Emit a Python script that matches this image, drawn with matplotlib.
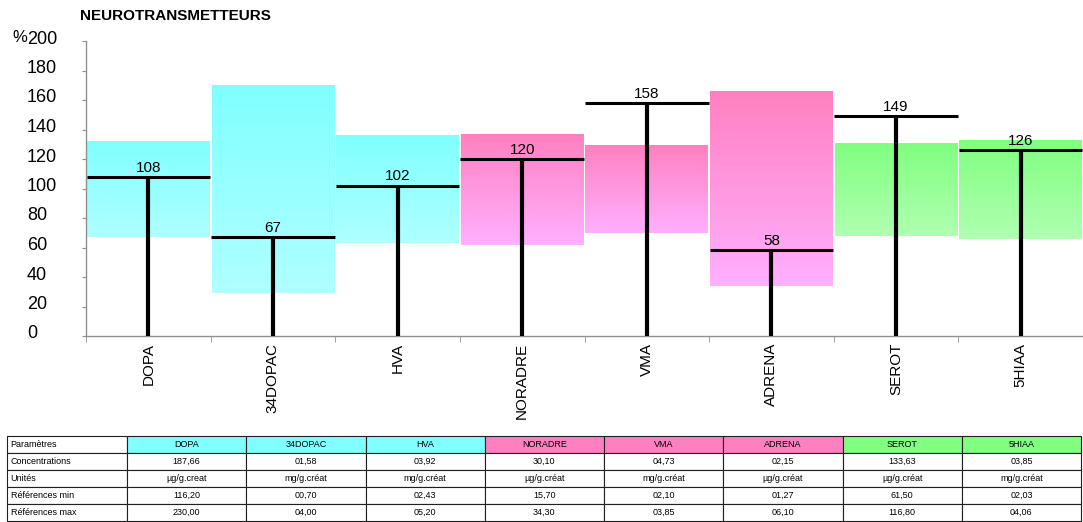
import numpy as np
import matplotlib
matplotlib.use("Agg")
import matplotlib.pyplot as plt
import matplotlib.transforms as mtransforms
from matplotlib.colors import to_rgb

plt.rcParams['font.family'] = ['Liberation Sans', 'DejaVu Sans']

categories = ["DOPA", "34DOPAC", "HVA", "NORADRE", "VMA", "ADRENA", "SEROT", "5HIAA"]
values = [108, 67, 102, 120, 158, 58, 149, 126]
ref_low = [67, 29, 63, 62, 70, 34, 68, 66]
ref_high = [132, 170, 136, 137, 129, 166, 131, 133]
groups = ["cyan", "cyan", "cyan", "pink", "pink", "pink", "green", "green"]
yticks = [0, 20, 40, 60, 80, 100, 120, 140, 160, 180, 200]

row_labels = ["Paramètres", "Concentrations", "Unités", "Références min", "Références max"]
concentrations = ["187,66", "01,58", "03,92", "30,10", "04,73", "02,15", "133,63", "03,85"]
units = ["µg/g.creat", "mg/g.créat", "mg/g.créat", "µg/g.créat", "mg/g.créat",
         "µg/g.créat", "µg/g.créat", "mg/g.créat"]
ref_min = ["116,20", "00,70", "02,43", "15,70", "02,10", "01,27", "61,50", "02,03"]
ref_max = ["230,00", "04,00", "05,20", "34,30", "03,85", "06,10", "116,80", "04,06"]

top_colors = {"cyan": "#80FFFF", "pink": "#FF80C0", "green": "#80FF80"}
bottom_colors = {"cyan": "#B0FFFF", "pink": "#FFB0FF", "green": "#B0FFB0"}
header_colors = {"cyan": "#80FFFF", "pink": "#FF80C0", "green": "#80FF80"}

W, H = 1083, 522
fig = plt.figure(figsize=(W / 100, H / 100), dpi=100)

ax = fig.add_axes([86 / W, 1 - 336 / H, 997 / W, 295 / H])

gap = 0.008
for i, (lo, hi, g) in enumerate(zip(ref_low, ref_high, groups)):
    c_top = np.array(to_rgb(top_colors[g]))
    c_bot = np.array(to_rgb(bottom_colors[g]))
    t = np.linspace(0, 1, 200)[:, None]
    grad = (c_top[None, :] * (1 - t) + c_bot[None, :] * t)[:, None, :]
    ax.imshow(grad, extent=(i - 0.5 + gap, i + 0.5 - gap, lo, hi), origin='upper',
              aspect='auto', zorder=1, interpolation='nearest')
ax.set_xlim(-0.5, len(categories) - 0.5)
ax.set_ylim(0, 200)

x = np.arange(len(categories))
ax.vlines(x, 0, values, color='black', lw=3.0, zorder=3, capstyle='butt')
ax.hlines(values, x - 0.495, x + 0.495, color='black', lw=2.2, zorder=3)
for i, v in enumerate(values):
    ax.annotate(str(v), (i, v), xytext=(0, 1.5), textcoords='offset points',
                ha='center', va='bottom', fontsize=11, zorder=4)

for s in ['top', 'right']:
    ax.spines[s].set_visible(False)
for s in ['left', 'bottom']:
    ax.spines[s].set_color('#909090')
    ax.spines[s].set_linewidth(1.0)

ax.set_yticks(yticks)
ax.set_yticklabels([str(v) for v in yticks])
ax.tick_params(axis='y', direction='out', length=3, color='#909090', labelsize=13,
               pad=58 * 0.72 - 3 * 0.72)
off = mtransforms.ScaledTranslation(0, 4 / 100, fig.dpi_scale_trans)
for lab in ax.get_yticklabels():
    lab.set_transform(lab.get_transform() + off)
    lab.set_ha('left')

ax.set_xticks(x)
ax.set_xticklabels(categories, rotation=90, fontsize=11, va='top')
ax.tick_params(axis='x', which='major', length=0, pad=5)
ax.set_xticks(np.arange(len(categories) + 1) - 0.5, minor=True)
ax.tick_params(axis='x', which='minor', direction='out', length=4, color='#909090')

fig.text(80 / W, 1 - 16 / H, "NEUROTRANSMETTEURS", fontsize=11, fontweight='bold',
         va='center', ha='left')
fig.text(27 / W, 1 - 37 / H, "%", fontsize=12, va='center', ha='right')

# table
tax = fig.add_axes([7 / W, 1 / H, (1081 - 7) / W, 85 / H])
tax.axis('off')
cell_text = [[row_labels[0]] + categories,
             [row_labels[1]] + concentrations,
             [row_labels[2]] + units,
             [row_labels[3]] + ref_min,
             [row_labels[4]] + ref_max]
cell_colors = [["white"] + [header_colors[g] for g in groups]] + \
              [["white"] * (len(categories) + 1) for _ in range(4)]
first_w = 120
other_w = (1081 - 7 - first_w) / len(categories)
col_widths = [first_w] + [other_w] * len(categories)
tot = sum(col_widths)
tbl = tax.table(cellText=cell_text, cellColours=cell_colors,
                colWidths=[c / tot for c in col_widths], bbox=[0, 0, 1, 1],
                cellLoc='center')
tbl.auto_set_font_size(False)
tbl.set_fontsize(6.5)
for (r, c), cell in tbl.get_celld().items():
    cell.set_edgecolor('#202020')
    cell.set_linewidth(0.8)
    if c == 0:
        cell._loc = 'left'
        cell.get_text().set_ha('left')
        cell.PAD = 0.03

fig.savefig("out.png", dpi=100)
